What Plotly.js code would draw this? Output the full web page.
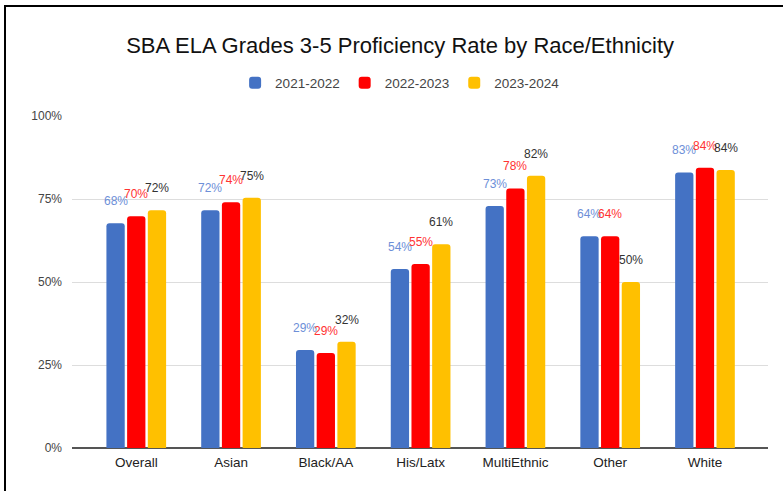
<!DOCTYPE html>
<html>
<head>
<meta charset="utf-8">
<script src="https://cdn.plot.ly/plotly-3.0.1.min.js"></script>
<style>
  html, body { margin: 0; padding: 0; background: #fff; }
  #chart { width: 783px; height: 491px; position: absolute; left: 0; top: 0; }
  #frame { position: absolute; left: 4px; top: 5px; width: 779px; height: 486px;
           border-left: 2px solid #000; border-top: 2px solid #000; box-sizing: border-box; pointer-events: none; }
</style>
</head>
<body>
<div id="chart"></div>
<div id="frame"></div>
<script>
// ---- data ----
const categories = ["Overall", "Asian", "Black/AA", "His/Latx", "MultiEthnic", "Other", "White"];
const seriesNames = ["2021-2022", "2022-2023", "2023-2024"];
const y2122 = [0.677, 0.716, 0.295, 0.539, 0.729, 0.638, 0.830];
const y2223 = [0.698, 0.740, 0.286, 0.554, 0.782, 0.638, 0.844];
const y2324 = [0.716, 0.754, 0.320, 0.614, 0.820, 0.500, 0.837];
const labels2122 = ["68%", "72%", "29%", "54%", "73%", "64%", "83%"];
const labels2223 = ["70%", "74%", "29%", "55%", "78%", "64%", "84%"];
const labels2324 = ["72%", "75%", "32%", "61%", "82%", "50%", "84%"];

// ---- styles ----
const barColors = ["#4472c4", "#ff0000", "#ffc000"];
const labelColors = ["#6d8fd8", "#ff3333", "#333333"];
const font = "Liberation Sans, Arial, sans-serif";

const allY = [y2122, y2223, y2324];
const allLabels = [labels2122, labels2223, labels2324];

const traces = allY.map((ys, i) => ({
  type: "bar",
  name: seriesNames[i],
  x: categories,
  y: ys,
  marker: { color: barColors[i], cornerradius: 3 },
  hoverinfo: "skip"
}));

const slotPx = 20.7;
const annotations = [];
allY.forEach((ys, i) => {
  ys.forEach((v, j) => {
    annotations.push({
      x: categories[j], y: v, xref: "x", yref: "y",
      text: allLabels[i][j], showarrow: false,
      xanchor: "center", yanchor: "bottom",
      xshift: (i - 1) * slotPx, yshift: 13,
      font: { family: font, size: 12, color: labelColors[i] }
    });
  });
});

const layout = {
  width: 783, height: 491,
  margin: { l: 72, r: 15, t: 116, b: 43, pad: 0 },
  paper_bgcolor: "#ffffff", plot_bgcolor: "#ffffff",
  font: { family: font, color: "#333" },
  title: {
    text: "SBA ELA Grades 3-5 Proficiency Rate by Race/Ethnicity",
    font: { family: font, size: 22, color: "#111" },
    xref: "container", yref: "container",
    x: 0.511, y: 1 - 45 / 491, xanchor: "center", yanchor: "middle"
  },
  showlegend: true,
  legend: {
    orientation: "h", xref: "container", yref: "container",
    x: 0.511, y: 1 - 83 / 491, xanchor: "center", yanchor: "middle",
    font: { family: font, size: 13.5, color: "#444" },
    itemwidth: 30, traceorder: "normal"
  },
  barmode: "group",
  bargap: 0.345,
  bargroupgap: 0.116,
  xaxis: {
    type: "category",
    range: [-0.678, 6.665],
    showgrid: false, zeroline: false, showline: false,
    ticks: "", ticklabelstandoff: 4,
    tickfont: { family: font, size: 13.5, color: "#222" },
    fixedrange: true
  },
  yaxis: {
    range: [0, 1],
    tickvals: [0, 0.25, 0.5, 0.75, 1],
    ticktext: ["0%", "25%", "50%", "75%", "100%"],
    showgrid: true, gridcolor: "#dddddd", gridwidth: 1,
    zeroline: true, zerolinecolor: "#555", zerolinewidth: 1.5,
    showline: false, ticks: "",
    ticklabelstandoff: 9,
    tickfont: { family: font, size: 12, color: "#444" },
    fixedrange: true
  },
  annotations: annotations
};

Plotly.newPlot("chart", traces, layout, { displayModeBar: false, staticPlot: true });
</script>
</body>
</html>
